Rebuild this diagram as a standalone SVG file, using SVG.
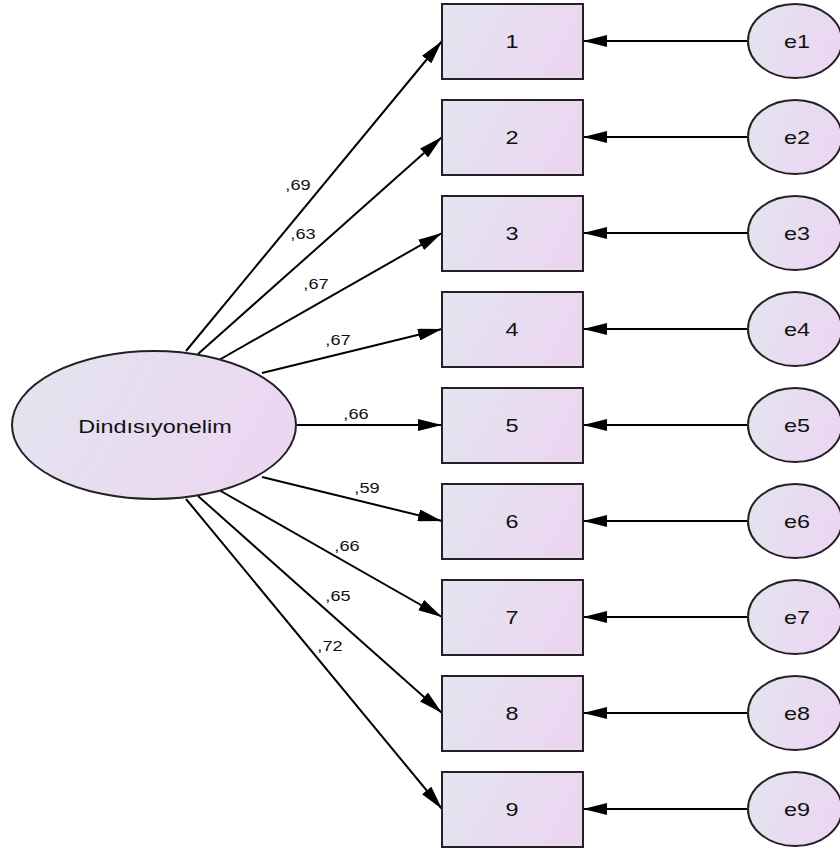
<svg xmlns="http://www.w3.org/2000/svg" width="840" height="850" viewBox="0 0 840 850">
<defs>
<linearGradient id="g" x1="0" y1="0" x2="1" y2="0.3">
<stop offset="0" stop-color="#e2e5ef"/>
<stop offset="1" stop-color="#ecd6f2"/>
</linearGradient>
<marker id="ah" viewBox="0 0 24 12" refX="24" refY="6" markerWidth="24" markerHeight="12" markerUnits="userSpaceOnUse" orient="auto">
<path d="M0,0 L24,6 L0,12 Z" fill="#000"/>
</marker>
<style>
.n{fill:url(#g);stroke:#222;stroke-width:2}
.c{stroke:#000;stroke-width:2;fill:none;marker-end:url(#ah)}
.t{font-family:"Liberation Sans",Arial,sans-serif;font-size:18px;fill:#111;text-anchor:middle;dominant-baseline:central}
.l{font-family:"Liberation Sans",Arial,sans-serif;font-size:14px;fill:#111;text-anchor:middle}
</style>
</defs>
<rect width="840" height="850" fill="#fff"/>
<g id="connectors">
<line class="c" x1="186" y1="351" x2="442" y2="41"/>
<line class="c" x1="198" y1="354" x2="442" y2="137"/>
<line class="c" x1="219" y1="360" x2="442" y2="233"/>
<line class="c" x1="262" y1="373" x2="442" y2="329"/>
<line class="c" x1="297" y1="425" x2="442" y2="425"/>
<line class="c" x1="262" y1="477" x2="442" y2="521"/>
<line class="c" x1="219" y1="490" x2="442" y2="617"/>
<line class="c" x1="198" y1="496" x2="442" y2="713"/>
<line class="c" x1="186" y1="499" x2="442" y2="809"/>
<line class="c" x1="748" y1="41" x2="583" y2="41"/>
<line class="c" x1="748" y1="137" x2="583" y2="137"/>
<line class="c" x1="748" y1="233" x2="583" y2="233"/>
<line class="c" x1="748" y1="329" x2="583" y2="329"/>
<line class="c" x1="748" y1="425" x2="583" y2="425"/>
<line class="c" x1="748" y1="521" x2="583" y2="521"/>
<line class="c" x1="748" y1="617" x2="583" y2="617"/>
<line class="c" x1="748" y1="713" x2="583" y2="713"/>
<line class="c" x1="748" y1="809" x2="583" y2="809"/>
<text class="l" transform="translate(298,190) scale(1.3,1)">,69</text>
<text class="l" transform="translate(303,239) scale(1.3,1)">,63</text>
<text class="l" transform="translate(316,289) scale(1.3,1)">,67</text>
<text class="l" transform="translate(338,345) scale(1.3,1)">,67</text>
<text class="l" transform="translate(356,419) scale(1.3,1)">,66</text>
<text class="l" transform="translate(367,493) scale(1.3,1)">,59</text>
<text class="l" transform="translate(347,551) scale(1.3,1)">,66</text>
<text class="l" transform="translate(338,601) scale(1.3,1)">,65</text>
<text class="l" transform="translate(330,651) scale(1.3,1)">,72</text>
</g>
<g id="latent"><ellipse class="n" cx="154" cy="425" rx="142" ry="74"/><text class="t" transform="translate(155,427) scale(1.3,1)">Dindısıyonelim</text></g>
<g id="v1"><rect class="n" x="442" y="4" width="141" height="75"/><text class="t" transform="translate(512,42) scale(1.3,1)">1</text></g>
<g id="v2"><rect class="n" x="442" y="100" width="141" height="75"/><text class="t" transform="translate(512,138) scale(1.3,1)">2</text></g>
<g id="v3"><rect class="n" x="442" y="196" width="141" height="75"/><text class="t" transform="translate(512,234) scale(1.3,1)">3</text></g>
<g id="v4"><rect class="n" x="442" y="292" width="141" height="75"/><text class="t" transform="translate(512,330) scale(1.3,1)">4</text></g>
<g id="v5"><rect class="n" x="442" y="388" width="141" height="75"/><text class="t" transform="translate(512,426) scale(1.3,1)">5</text></g>
<g id="v6"><rect class="n" x="442" y="484" width="141" height="75"/><text class="t" transform="translate(512,522) scale(1.3,1)">6</text></g>
<g id="v7"><rect class="n" x="442" y="580" width="141" height="75"/><text class="t" transform="translate(512,618) scale(1.3,1)">7</text></g>
<g id="v8"><rect class="n" x="442" y="676" width="141" height="75"/><text class="t" transform="translate(512,714) scale(1.3,1)">8</text></g>
<g id="v9"><rect class="n" x="442" y="772" width="141" height="75"/><text class="t" transform="translate(512,810) scale(1.3,1)">9</text></g>
<g id="e1"><ellipse class="n" cx="795" cy="41" rx="47" ry="37"/><text class="t" transform="translate(797,42) scale(1.3,1)">e1</text></g>
<g id="e2"><ellipse class="n" cx="795" cy="137" rx="47" ry="37"/><text class="t" transform="translate(797,138) scale(1.3,1)">e2</text></g>
<g id="e3"><ellipse class="n" cx="795" cy="233" rx="47" ry="37"/><text class="t" transform="translate(797,234) scale(1.3,1)">e3</text></g>
<g id="e4"><ellipse class="n" cx="795" cy="329" rx="47" ry="37"/><text class="t" transform="translate(797,330) scale(1.3,1)">e4</text></g>
<g id="e5"><ellipse class="n" cx="795" cy="425" rx="47" ry="37"/><text class="t" transform="translate(797,426) scale(1.3,1)">e5</text></g>
<g id="e6"><ellipse class="n" cx="795" cy="521" rx="47" ry="37"/><text class="t" transform="translate(797,522) scale(1.3,1)">e6</text></g>
<g id="e7"><ellipse class="n" cx="795" cy="617" rx="47" ry="37"/><text class="t" transform="translate(797,618) scale(1.3,1)">e7</text></g>
<g id="e8"><ellipse class="n" cx="795" cy="713" rx="47" ry="37"/><text class="t" transform="translate(797,714) scale(1.3,1)">e8</text></g>
<g id="e9"><ellipse class="n" cx="795" cy="809" rx="47" ry="37"/><text class="t" transform="translate(797,810) scale(1.3,1)">e9</text></g>
</svg>
